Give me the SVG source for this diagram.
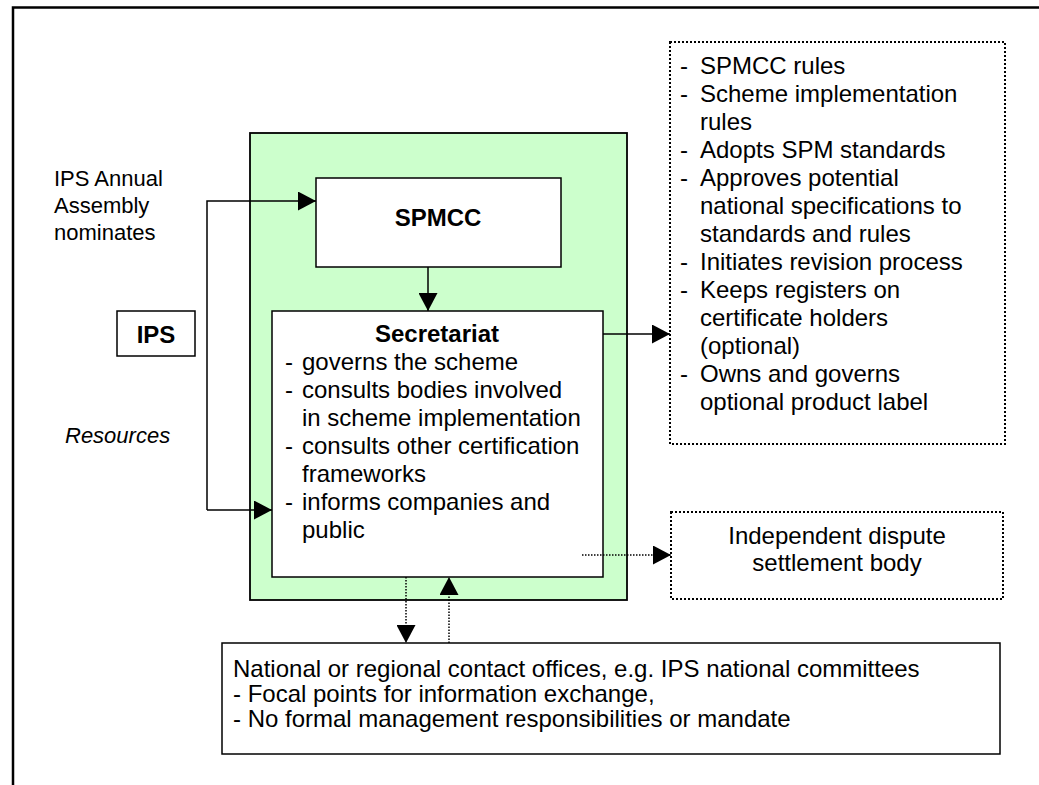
<svg xmlns="http://www.w3.org/2000/svg" width="1039" height="785" viewBox="0 0 1039 785">
  <style>
    text { font-family: "Liberation Sans", Arial, sans-serif; font-size: 24px; fill: #000; }
    .bold { font-weight: bold; }
    .small { font-size: 22px; }
    .ital { font-style: italic; }
    .mid { text-anchor: middle; }
    .box { fill: #fff; stroke: #000; stroke-width: 1.5; }
    .dotbox { fill: #fff; stroke: #000; stroke-width: 2; stroke-dasharray: 2 2; }
    .line { fill: none; stroke: #000; stroke-width: 1.5; }
    .dotline { fill: none; stroke: #000; stroke-width: 1.5; stroke-dasharray: 1.5 1.5; }
  </style>
  <defs>
    <marker id="arrow" markerUnits="userSpaceOnUse" markerWidth="19" markerHeight="19" refX="18" refY="9.5" orient="auto">
      <path d="M0,0 L18,9.5 L0,19 z" fill="#000"/>
    </marker>
  </defs>

  <rect width="1039" height="785" fill="#fff"/>

  <!-- page frame (top and left edges only) -->
  <path d="M13,785 V7.5 H1039" fill="none" stroke="#000" stroke-width="2.5"/>

  <!-- scheme management area -->
  <g id="management-area">
    <rect x="250" y="133" width="377" height="467" fill="#ccffcc" stroke="#000" stroke-width="1.8"/>
  </g>

  <g id="spmcc">
    <rect class="box" x="316" y="178" width="245" height="89"/>
    <text class="bold mid" x="438" y="226">SPMCC</text>
  </g>

  <g id="secretariat">
    <rect class="box" x="272" y="311" width="331" height="266"/>
    <text class="bold mid" x="437" y="342">Secretariat</text>
    <text x="285" y="370">-</text><text x="302" y="370">governs the scheme</text>
    <text x="285" y="398">-</text><text x="302" y="398">consults bodies involved</text>
    <text x="302" y="426">in scheme implementation</text>
    <text x="285" y="454">-</text><text x="302" y="454">consults other certification</text>
    <text x="302" y="482">frameworks</text>
    <text x="285" y="510">-</text><text x="302" y="510">informs companies and</text>
    <text x="302" y="538">public</text>
  </g>

  <g id="ips">
    <rect class="box" x="117" y="311" width="78" height="45"/>
    <text class="bold mid" x="156" y="343">IPS</text>
  </g>

  <g id="assembly-label">
    <text class="small" x="54" y="186">IPS Annual</text>
    <text class="small" x="54" y="213">Assembly</text>
    <text class="small" x="54" y="240">nominates</text>
  </g>

  <g id="resources-label">
    <text class="small ital" x="65" y="443">Resources</text>
  </g>

  <g id="tasks">
    <rect class="dotbox" x="670" y="42" width="335" height="402"/>
    <text x="680" y="74">-</text><text x="700" y="74">SPMCC rules</text>
    <text x="680" y="102">-</text><text x="700" y="102">Scheme implementation</text>
    <text x="700" y="130">rules</text>
    <text x="680" y="158">-</text><text x="700" y="158">Adopts SPM standards</text>
    <text x="680" y="186">-</text><text x="700" y="186">Approves potential</text>
    <text x="700" y="214">national specifications to</text>
    <text x="700" y="242">standards and rules</text>
    <text x="680" y="270">-</text><text x="700" y="270">Initiates revision process</text>
    <text x="680" y="298">-</text><text x="700" y="298">Keeps registers on</text>
    <text x="700" y="326">certificate holders</text>
    <text x="700" y="354">(optional)</text>
    <text x="680" y="382">-</text><text x="700" y="382">Owns and governs</text>
    <text x="700" y="410">optional product label</text>
  </g>

  <g id="dispute-body">
    <rect class="dotbox" x="671" y="512" width="332" height="87"/>
    <text class="mid" x="837" y="544">Independent dispute</text>
    <text class="mid" x="837" y="571">settlement body</text>
  </g>

  <g id="contact-offices">
    <rect class="box" x="222" y="643" width="778" height="111"/>
    <text x="233" y="677">National or regional contact offices, e.g. IPS national committees</text>
    <text x="233" y="702">- Focal points for information exchange,</text>
    <text x="233" y="727">- No formal management responsibilities or mandate</text>
  </g>

  <!-- connectors -->
  <g id="connectors">
    <path class="line" d="M207,510 V201 H316" marker-end="url(#arrow)"/>
    <path class="line" d="M207,510 H272" marker-end="url(#arrow)"/>
    <path class="line" d="M428,267 V311" marker-end="url(#arrow)"/>
    <path class="line" d="M603,334 H670" marker-end="url(#arrow)"/>
    <path class="dotline" d="M582,555 H671" marker-end="url(#arrow)"/>
    <path class="dotline" d="M406,577 V643" marker-end="url(#arrow)"/>
    <path class="dotline" d="M449,643 V577" marker-end="url(#arrow)"/>
  </g>
</svg>
